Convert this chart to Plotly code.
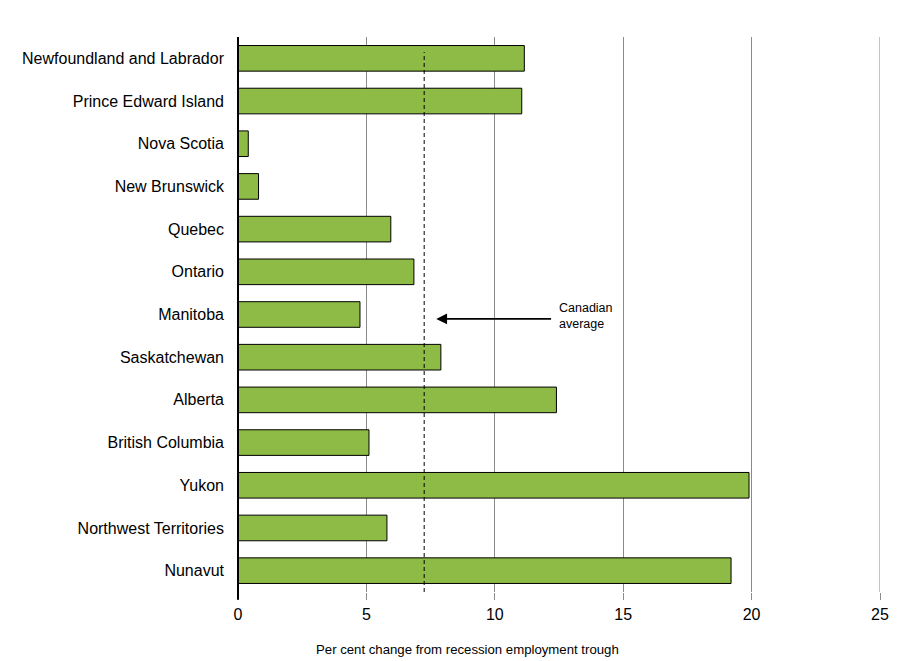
import plotly.graph_objects as go

provinces = ["Newfoundland and Labrador", "Prince Edward Island", "Nova Scotia",
             "New Brunswick", "Quebec", "Ontario", "Manitoba", "Saskatchewan",
             "Alberta", "British Columbia", "Yukon", "Northwest Territories", "Nunavut"]
values = [11.15, 11.05, 0.4, 0.8, 5.95, 6.85, 4.75, 7.9, 12.4, 5.1, 19.9, 5.8, 19.2]
canadian_average = 7.25
x_ticks = [0, 5, 10, 15, 20, 25]

fig = go.Figure()
fig.add_trace(go.Bar(
    y=provinces, x=values, orientation="h",
    marker=dict(color="#8DBB45", line=dict(color="#000000", width=1)),
    width=0.6, showlegend=False,
))

fig.add_shape(type="line", xref="x", yref="paper", x0=canadian_average, x1=canadian_average,
              y0=0, y1=0.973, line=dict(color="#000000", width=1, dash="4px,3px"))
fig.add_shape(type="line", xref="x", yref="paper", x0=x_ticks[-1], x1=x_ticks[-1],
              y0=0, y1=1, line=dict(color="#8a8a8a", width=1), layer="below")
fig.add_shape(type="line", xref="paper", yref="paper", x0=0, x1=0, y0=-0.014, y1=1,
              line=dict(color="#000000", width=2))

fig.add_annotation(x=7.72, y=0.492, xref="x", yref="paper", ax=12.25, ay=0,
                   axref="x", ayref="pixel", text="", showarrow=True,
                   arrowhead=2, arrowsize=1.2, arrowwidth=1.8, arrowcolor="#000000")
fig.add_annotation(x=12.42, y=0.497, xref="x", yref="paper", text="Canadian<br>average",
                   showarrow=False, xanchor="left", yanchor="middle", align="left",
                   font=dict(family="Liberation Sans, Arial", size=12.5, color="#000000"))
fig.add_annotation(x=0.358, y=-0.103, xref="paper", yref="paper",
                   text="Per cent change from recession employment trough",
                   showarrow=False, xanchor="center", yanchor="middle",
                   font=dict(family="Liberation Sans, Arial", size=13.2, color="#000000"))

fig.update_layout(
    width=910, height=661,
    margin=dict(l=238, r=30, t=37, b=69),
    plot_bgcolor="#ffffff", paper_bgcolor="#ffffff",
    font=dict(family="Liberation Sans, Arial", size=16, color="#000000"),
    xaxis=dict(range=[0, 25], tickvals=x_ticks, showgrid=True, gridcolor="#8a8a8a",
               gridwidth=1, zeroline=False, showline=False, ticks="outside", ticklen=7,
               tickcolor="#8a8a8a", tickwidth=1, ticklabelstandoff=1,
               tickfont=dict(size=16)),
    yaxis=dict(autorange="reversed", showgrid=False, zeroline=False, showline=False,
               ticks="", ticklabelstandoff=13, tickfont=dict(size=16)),
    bargap=0.4,
)

fig.write_html("out.html")
